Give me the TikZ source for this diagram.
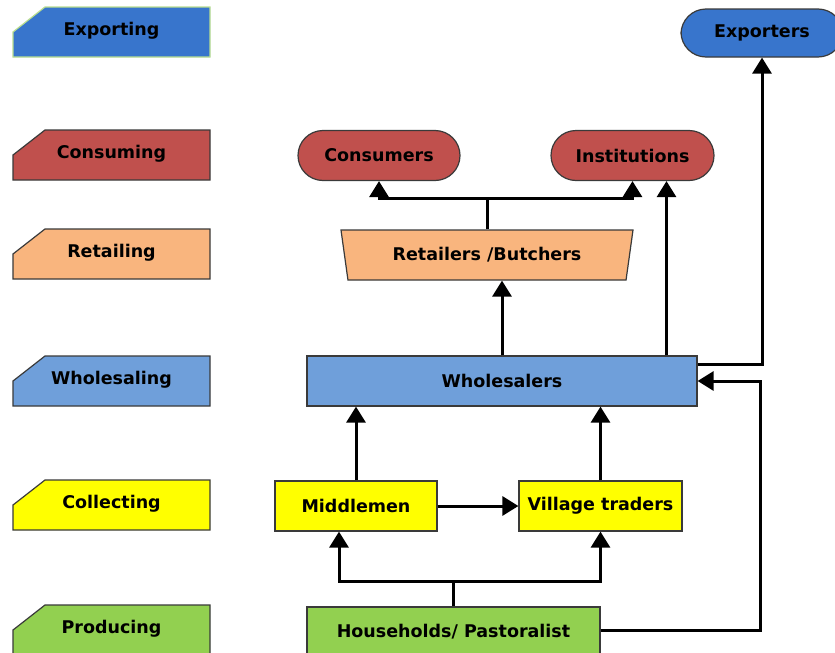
\documentclass[tikz,border=0pt]{standalone}
\usepackage{fontspec}
\setmainfont{DejaVu Sans}
\usepackage{tikz}
\usetikzlibrary{arrows.meta,shapes.geometric}

\definecolor{expblue}{HTML}{3875CC}
\definecolor{conred}{HTML}{C0504D}
\definecolor{retorange}{HTML}{F9B57E}
\definecolor{whlblue}{HTML}{6F9FDA}
\definecolor{colyellow}{HTML}{FFFF00}
\definecolor{prodgreen}{HTML}{92D050}
\definecolor{edgegray}{HTML}{3A3A3A}
\definecolor{palegreen}{HTML}{B9DE8F}

\begin{document}
\begin{tikzpicture}[x=1pt,y=-1pt,
    txt/.style={font=\fontsize{17.5}{20}\selectfont\bfseries},
    box/.style={txt,draw=edgegray,line width=1.2pt,minimum height=50pt,inner sep=0pt},
    pill/.style={box,rounded corners=25pt},
    arr/.style={line width=3pt,-{Triangle[width=19pt,length=16pt]}},
    link/.style={line width=3pt}]
    \clip (0,0) rectangle (835,653);
    \fill[white] (0,0) rectangle (835,653);

    % stages on the left
    \foreach \y/\col/\edge/\lab [count=\n] in {
      32/expblue/palegreen/Exporting,
      155/conred/edgegray/Consuming,
      254/retorange/edgegray/Retailing,
      381/whlblue/edgegray/Wholesaling,
      505/colyellow/edgegray/Collecting,
      630/prodgreen/edgegray/Producing}{
      \draw[fill=\col,draw=\edge,line width=1.2pt]
        (13,\y+25) -- (13,\y) -- (45,\y-25) -- (210,\y-25) -- (210,\y+25) -- cycle;
      \node[txt] (stage\n) at (111.5,\y-1) {\lab};
    }

    % actors
    \node[pill,fill=expblue,minimum width=162pt,minimum height=48pt] (exp) at (762,33) {Exporters};
    \node[pill,fill=conred,minimum width=162pt] (cons) at (379,155.5) {Consumers};
    \node[pill,fill=conred,minimum width=163pt] (inst) at (632.5,155.5) {Institutions};
    \node[box,fill=retorange,trapezium,shape border rotate=180,
      trapezium stretches body,trapezium left angle=65,trapezium right angle=65,
      minimum width=292pt] (ret) at (487,255) {Retailers /Butchers};
    \node[box,fill=whlblue,minimum width=390pt] (whl) at (502,381) {Wholesalers};
    \node[box,fill=colyellow,minimum width=162pt] (mid) at (356,506) {Middlemen};
    \node[box,fill=colyellow,minimum width=163pt] (vil) at (600.5,506) {Village traders};
    \node[box,fill=prodgreen,minimum width=293pt] (hh) at (453.5,632) {Households/ Pastoralist};

    % flows
    \coordinate (rfork) at ([yshift=31pt]ret.north);
    \draw[link] (ret.north) -- (rfork);
    \draw[arr] (rfork) -| (cons.south);
    \draw[arr] (rfork) -| (inst.south);
    \draw[arr] (whl.north) -- (whl.north |- ret.south);
    \coordinate (instin) at ([xshift=34pt]inst.south);
    \draw[arr] (whl.north -| instin) -- (instin);
    \draw[arr] ([yshift=17pt]whl.east) -| (exp.south);
    \draw[arr] (mid.north) -- (mid.north |- whl.south);
    \draw[arr] (vil.north) -- (vil.north |- whl.south);
    \draw[arr] (mid.east) -- (vil.west);
    \coordinate (hfork) at ([yshift=25pt]hh.north);
    \draw[link] (hh.north) -- (hfork);
    \draw[arr] (hfork) -| ([xshift=-17pt]mid.south);
    \draw[arr] (hfork) -| (vil.south);
    \draw[arr] ([yshift=2pt]hh.east) -| ([xshift=63pt]whl.east) -- (whl.east);
\end{tikzpicture}
\end{document}
